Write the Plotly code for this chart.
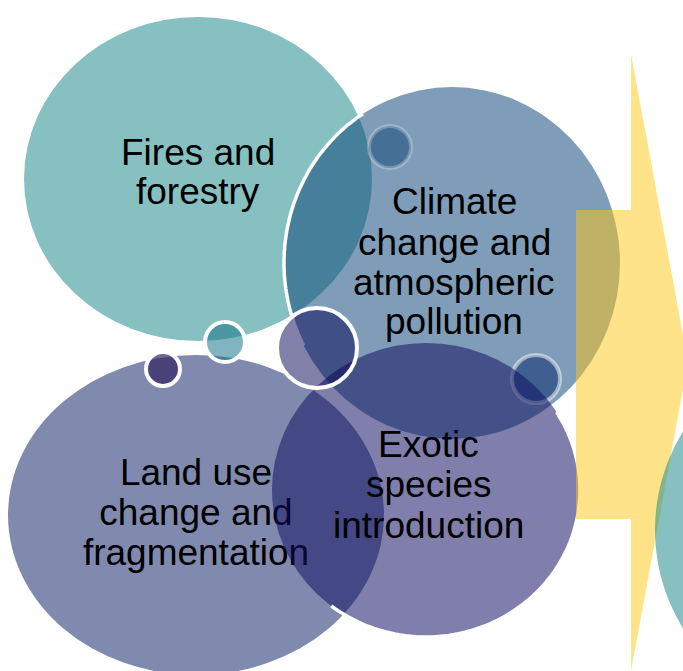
import numpy as np
import plotly.graph_objects as go

W, H = 683, 671

# big bubbles: label lines, centre, radii, fill colour (rgb), alpha
bubble_names = ["Fires and forestry", "Land use change and fragmentation",
                "Climate change and atmospheric pollution", "Exotic species introduction"]
bubble_cx = [198, 196, 452, 426]
bubble_cy = [179, 515, 263, 490]
bubble_rx = [174, 188, 168, 154]
bubble_ry = [162, 160, 176, 147]
bubble_rgb = ["26,136,136", "13,34,102", "13,70,121", "15,13,96"]
bubble_alpha = 0.53

# label lines and their baselines
label_lines = [["Fires and", "forestry"],
               ["Land use", "change and", "fragmentation"],
               ["Climate", "change and", "atmospheric", "pollution"],
               ["Exotic", "species", "introduction"]]
label_x = [198, 196, 454, 428]
label_base = [[165, 204], [489, 529, 569], [214, 255, 295, 334], [457, 497, 538]]

# small decorative circles
dot_cx = [390, 225, 163, 536, 317]
dot_cy = [147, 342, 369, 379, 348]
dot_r = [21, 20, 17, 24, 40]
dot_fill = ["rgba(30,80,124,0.6)", "rgba(24,118,140,0.55)", "rgba(51,37,98,0.7)",
            "rgba(20,54,116,0.6)", "rgba(1,1,81,0.5)"]
dot_line = ["rgba(255,255,255,0.25)", "white", "white", "rgba(255,255,255,0.5)", "white"]

# arrow outline
arrow_x = [576, 631, 631, 688, 631, 631, 576]
arrow_y = [210, 210, 54, 362, 671, 519, 519]

# partly hidden bubble on the right
right_cx, right_cy, right_r = 842, 530, 187


def ellipse(i, layer="below", line=None):
    return dict(type="circle", xref="x", yref="y", layer=layer,
                x0=bubble_cx[i] - bubble_rx[i], x1=bubble_cx[i] + bubble_rx[i],
                y0=bubble_cy[i] - bubble_ry[i], y1=bubble_cy[i] + bubble_ry[i],
                fillcolor=f"rgba({bubble_rgb[i]},{bubble_alpha})",
                line=line or dict(width=0))


def arc(i, t0, t1, layer="below"):
    t = np.radians(np.linspace(t0, t1, 80))
    xs = bubble_cx[i] + bubble_rx[i] * np.cos(t)
    ys = bubble_cy[i] - bubble_ry[i] * np.sin(t)
    p = "M " + " L ".join(f"{x:.1f},{y:.1f}" for x, y in zip(xs, ys))
    return dict(type="path", xref="x", yref="y", layer=layer, path=p,
                line=dict(color="white", width=3.5))


def dot(j, layer="below"):
    return dict(type="circle", xref="x", yref="y", layer=layer,
                x0=dot_cx[j] - dot_r[j], x1=dot_cx[j] + dot_r[j],
                y0=dot_cy[j] - dot_r[j], y1=dot_cy[j] + dot_r[j],
                fillcolor=dot_fill[j], line=dict(color=dot_line[j], width=4))


shapes = [
    ellipse(0),
    ellipse(1),
    ellipse(2),
    arc(2, 122, 208),
    dot(0), dot(1), dot(2), dot(3),
    ellipse(3, layer="above"),
    arc(3, -128, 32, layer="above"),
    dot(4, layer="above"),
    dict(type="path", xref="x", yref="y", layer="above",
         path="M " + " L ".join(f"{x},{y}" for x, y in zip(arrow_x, arrow_y)) + " Z",
         fillcolor="rgba(255,200,20,0.5)", line=dict(width=0)),
    dict(type="circle", xref="x", yref="y", layer="above",
         x0=right_cx - right_r, x1=right_cx + right_r,
         y0=right_cy - right_r, y1=right_cy + right_r,
         fillcolor=f"rgba({bubble_rgb[0]},{bubble_alpha})", line=dict(width=0)),
]

FONT = dict(family="Liberation Sans, Arial, sans-serif", size=37, color="black")

fig = go.Figure()

# land use text sits under the exotic bubble, so it goes in as a trace
fig.add_trace(go.Scatter(
    x=[label_x[1]] * len(label_lines[1]),
    y=[b - 13 for b in label_base[1]],
    text=label_lines[1], mode="text", textfont=FONT,
    textposition="middle center", hoverinfo="skip", showlegend=False))

annotations = []
for i in (0, 2, 3):
    for txt, b in zip(label_lines[i], label_base[i]):
        annotations.append(dict(x=label_x[i], y=b - 13, xref="x", yref="y",
                                text=txt, showarrow=False, font=FONT,
                                xanchor="center", yanchor="middle"))

fig.update_layout(
    width=W, height=H,
    margin=dict(l=0, r=0, t=0, b=0),
    paper_bgcolor="white", plot_bgcolor="white",
    xaxis=dict(range=[0, W], visible=False, fixedrange=True),
    yaxis=dict(range=[H, 0], visible=False, fixedrange=True),
    shapes=shapes, annotations=annotations,
    showlegend=False,
)

# drop the default page margin so the drawing lines up with the window
fig.write_html("out.html", config={"displayModeBar": False},
               post_script="document.body.style.margin='0';")
